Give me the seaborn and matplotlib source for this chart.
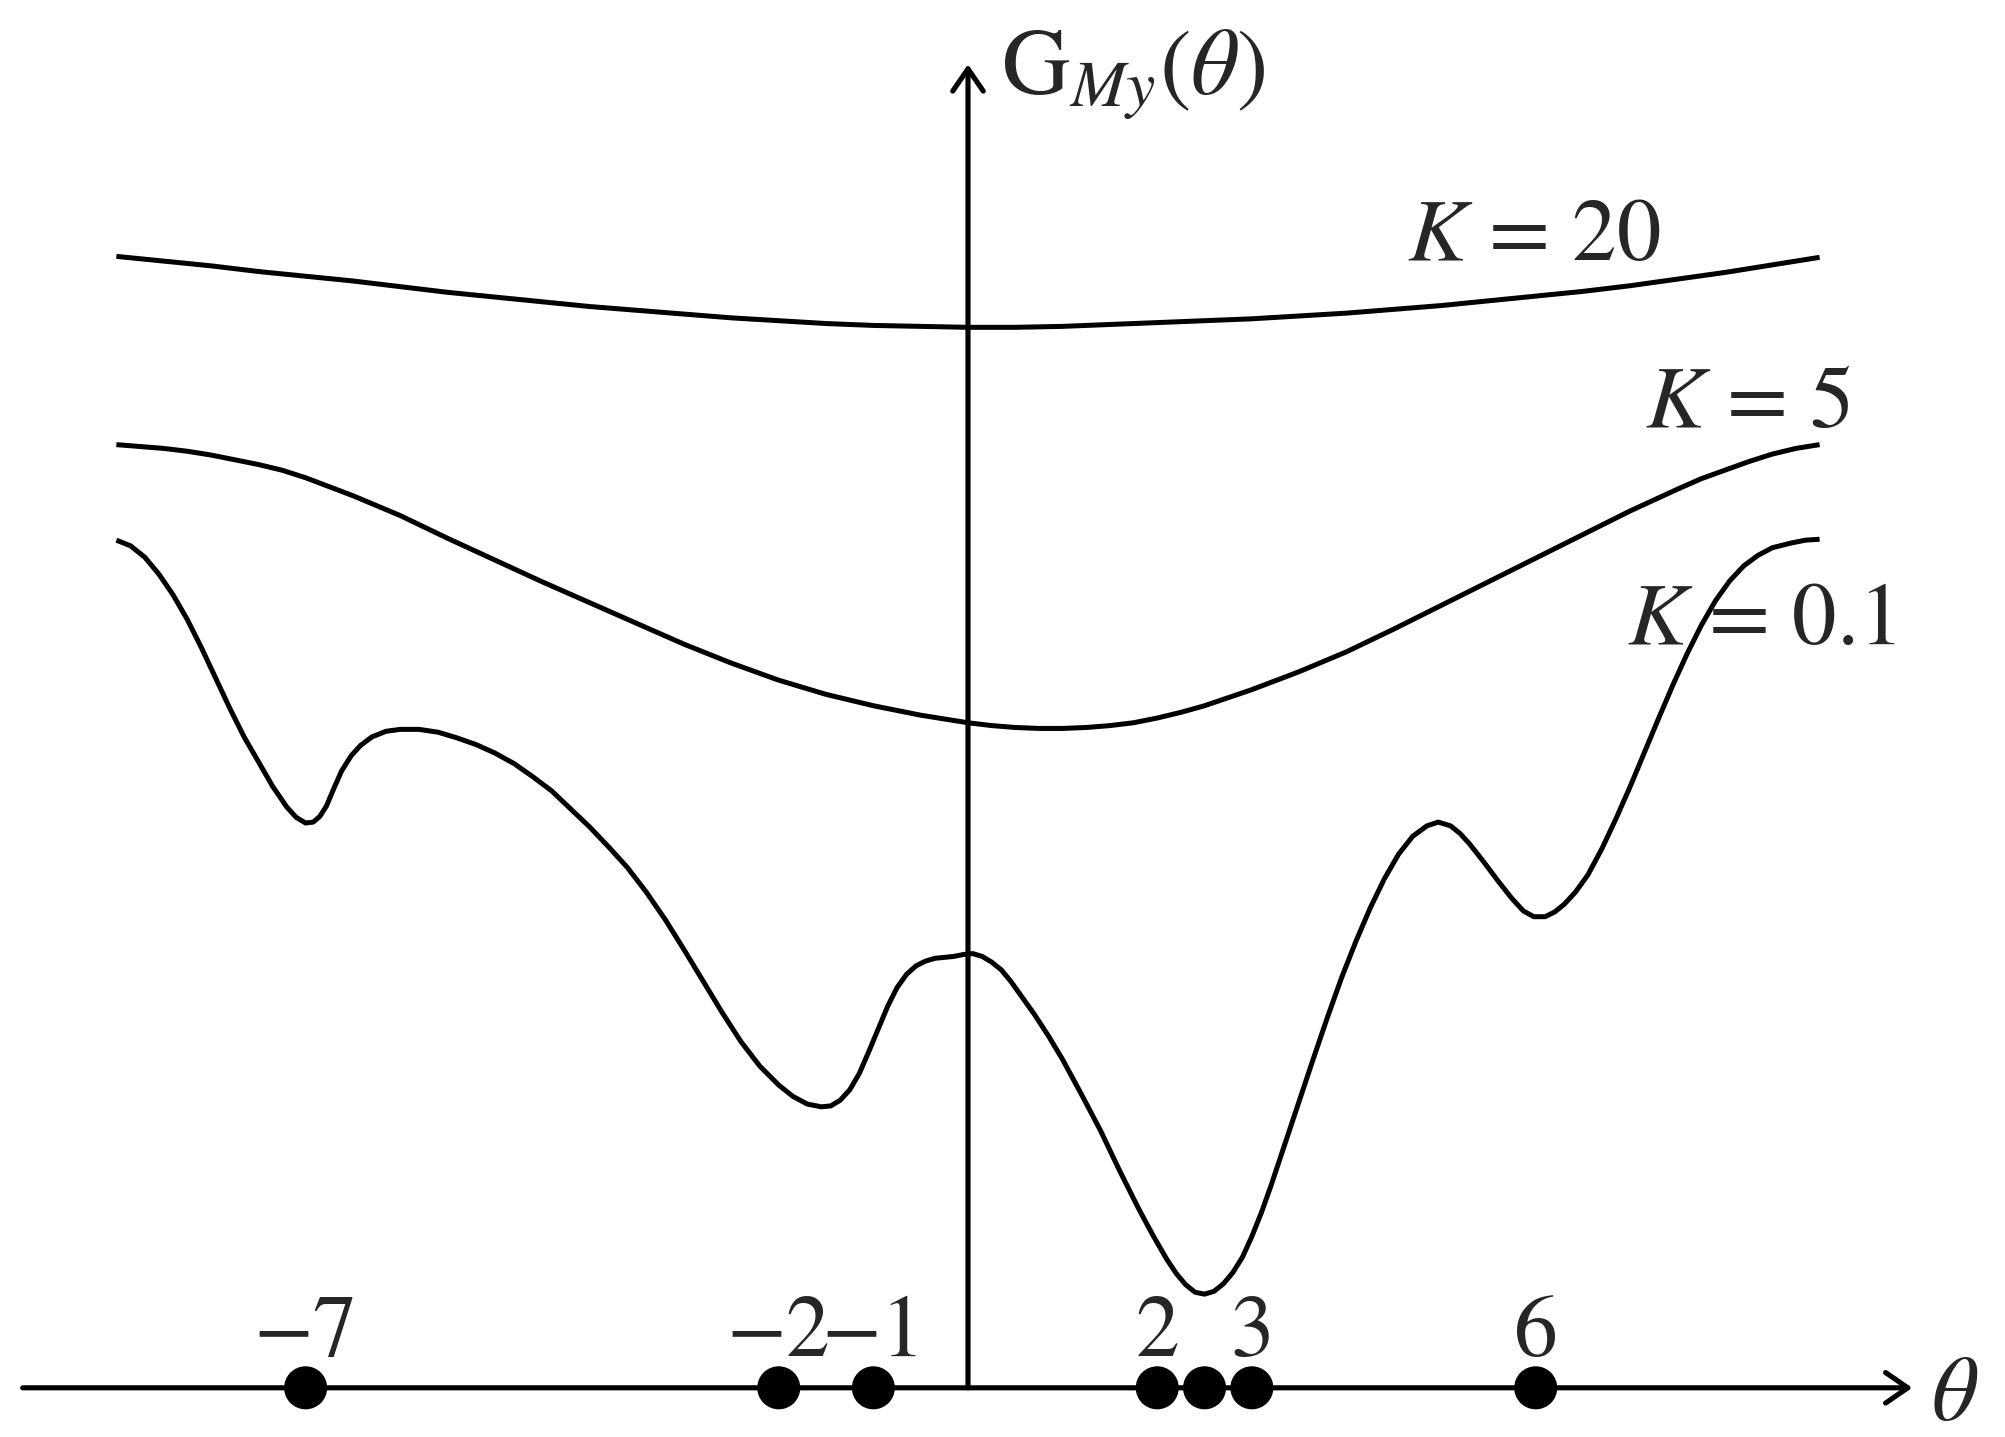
import numpy as np
import pandas as pd
import matplotlib
matplotlib.use("Agg")
import matplotlib.pyplot as plt
import seaborn as sns

# ---------------- data ----------------
theta_k20 = [-9, -8.5, -8, -7.5, -7, -6.5, -6, -5.5, -5, -4.5, -4, -3.5, -3, -2.5,
             -2, -1.5, -1, -0.5, 0, 0.5, 1, 1.5, 2, 2.5, 3, 3.5, 4, 4.5, 5, 5.5,
             6, 6.5, 7, 7.5, 8, 8.5, 9]
g_k20 = [11.96, 11.91, 11.86, 11.80, 11.75, 11.70, 11.64, 11.58, 11.53, 11.48,
         11.43, 11.39, 11.35, 11.31, 11.28, 11.25, 11.23, 11.22, 11.21, 11.21,
         11.22, 11.24, 11.26, 11.28, 11.30, 11.33, 11.36, 11.40, 11.44, 11.49,
         11.54, 11.59, 11.65, 11.72, 11.79, 11.87, 11.95]

theta_k5 = [-9, -8.75, -8.5, -8.25, -8, -7.75, -7.5, -7.25, -7, -6.5, -6, -5.5, -5,
            -4.5, -4, -3.5, -3, -2.5, -2, -1.5, -1, -0.5, -0.25, 0, 0.25, 0.5, 0.75,
            1, 1.25, 1.5, 1.75, 2, 2.25, 2.5, 3, 3.5, 4, 4.5, 5, 5.5, 6, 6.5, 7,
            7.5, 7.75, 8, 8.25, 8.5, 8.75, 9]
g_k5 = [9.97, 9.95, 9.93, 9.90, 9.86, 9.81, 9.76, 9.70, 9.62, 9.43, 9.22, 8.98,
        8.75, 8.52, 8.30, 8.08, 7.86, 7.66, 7.48, 7.33, 7.21, 7.11, 7.07, 7.03,
        7.00, 6.98, 6.97, 6.97, 6.98, 7.00, 7.03, 7.08, 7.14, 7.21, 7.38, 7.57,
        7.78, 8.02, 8.27, 8.52, 8.77, 9.02, 9.27, 9.50, 9.61, 9.70, 9.79, 9.87,
        9.93, 9.97]

theta_k01 = [-9.0, -8.85, -8.7, -8.55, -8.4, -8.25, -8.1, -7.95, -7.8, -7.65, -7.5,
             -7.35, -7.2, -7.1, -7.0, -6.92, -6.85, -6.78, -6.7, -6.62, -6.52, -6.42,
             -6.3, -6.15, -6.0, -5.8, -5.6, -5.4, -5.2, -5.0, -4.8, -4.6, -4.4, -4.2,
             -4.0, -3.8, -3.6, -3.4, -3.2, -3.0, -2.8, -2.6, -2.4, -2.2, -2.0, -1.85,
             -1.7, -1.55, -1.45, -1.35, -1.25, -1.15, -1.05, -0.95, -0.85, -0.75,
             -0.65, -0.55, -0.45, -0.35, -0.25, -0.15, -0.05, 0.05, 0.15, 0.25, 0.35,
             0.45, 0.55, 0.7, 0.85, 1.0, 1.2, 1.4, 1.6, 1.8, 1.95, 2.1, 2.2, 2.3, 2.4,
             2.5, 2.6, 2.7, 2.8, 2.9, 3.0, 3.1, 3.2, 3.35, 3.5, 3.65, 3.8, 3.95, 4.1,
             4.25, 4.4, 4.55, 4.7, 4.85, 4.97, 5.1, 5.2, 5.3, 5.45, 5.6, 5.75, 5.87,
             5.98, 6.1, 6.2, 6.3, 6.42, 6.55, 6.7, 6.85, 7.0, 7.15, 7.3, 7.45, 7.6,
             7.75, 7.9, 8.05, 8.2, 8.35, 8.5, 8.7, 8.85, 9.0]
g_k01 = [8.96, 8.90, 8.78, 8.60, 8.38, 8.12, 7.82, 7.50, 7.18, 6.88, 6.62,
         6.36, 6.14, 6.03, 5.97, 5.98, 6.04, 6.15, 6.34, 6.52, 6.68, 6.79,
         6.88, 6.94, 6.96, 6.96, 6.93, 6.87, 6.80, 6.71, 6.60, 6.46, 6.31, 6.12,
         5.93, 5.72, 5.50, 5.24, 4.95, 4.63, 4.30, 3.97, 3.66, 3.40, 3.20, 3.08,
         3.00, 2.97, 2.98, 3.04, 3.15, 3.32, 3.55, 3.79, 4.03, 4.23,
         4.37, 4.46, 4.51, 4.54, 4.55, 4.56, 4.58, 4.59, 4.56, 4.50, 4.42,
         4.30, 4.16, 3.95, 3.72, 3.47, 3.10, 2.72, 2.30, 1.90, 1.62, 1.36, 1.21, 1.09, 1.01,
         0.99, 1.02, 1.10, 1.22, 1.38, 1.60, 1.85, 2.13, 2.58, 3.03, 3.48, 3.92, 4.34, 4.72,
         5.07, 5.38, 5.64, 5.83, 5.94, 5.98, 5.94, 5.86, 5.75, 5.56, 5.36, 5.17, 5.04,
         4.98, 4.98, 5.03, 5.11, 5.24, 5.42, 5.70, 6.02, 6.36, 6.72, 7.08, 7.43, 7.76,
         8.06, 8.32, 8.53, 8.69, 8.80, 8.88, 8.93, 8.96, 8.97]

curve_labels = ["$K$ = 20", "$K$ = 5", "$K$ = 0.1"]

sample_points = [-7, -2, -1, 2, 2.5, 3, 6]
tick_values = [-7, -2, -1, 2, 3, 6]
tick_labels = ["\u22127", "\u22122", "\u22121", "2", "3", "6"]

# ---------------- style ----------------
sns.set_theme(style="white")
plt.rcParams["font.family"] = ["STIXGeneral", "DejaVu Serif"]
plt.rcParams["mathtext.fontset"] = "stix"

fig = plt.figure(figsize=(20.06, 14.37), dpi=100)
ax = fig.add_axes([0, 0, 1, 1])
ax.set_xlim(-10.23, 10.97)
ax.set_ylim(-0.52, 14.67)
ax.axis("off")

curve_lw = 3.6
df20 = pd.DataFrame({"theta": theta_k20, "G": g_k20})
df5 = pd.DataFrame({"theta": theta_k5, "G": g_k5})
df01 = pd.DataFrame({"theta": theta_k01, "G": g_k01})
for d in (df20, df5, df01):
    sns.lineplot(data=d, x="theta", y="G", ax=ax, color="black", lw=curve_lw,
                 sort=False, legend=False, solid_joinstyle="round",
                 solid_capstyle="butt")

# axes with arrows
axis_lw = 3.7
arrow_style = "->,head_length=0.8,head_width=0.55"
ax.annotate("", xy=(9.98, 0), xytext=(-9.99, 0),
            arrowprops=dict(arrowstyle=arrow_style, lw=axis_lw, color="black",
                            shrinkA=0, shrinkB=0, mutation_scale=20))
ax.annotate("", xy=(0, 13.99), xytext=(0, 0),
            arrowprops=dict(arrowstyle=arrow_style, lw=axis_lw, color="black",
                            shrinkA=0, shrinkB=0, mutation_scale=20))

# sample points on the axis
dots = pd.DataFrame({"theta": sample_points, "y": [0.0] * len(sample_points)})
sns.scatterplot(data=dots, x="theta", y="y", ax=ax, color="black", s=31 ** 2,
                edgecolor="none", zorder=5, legend=False)

fs_tick = 63
for v, lab in zip(tick_values, tick_labels):
    ax.text(v, 0.34, lab, ha="center", va="baseline", fontsize=fs_tick)

# curve labels
fs = 64
ax.text(4.64, 11.92, curve_labels[0], ha="left", va="baseline", fontsize=fs)
ax.text(7.16, 10.16, curve_labels[1], ha="left", va="baseline", fontsize=fs)
ax.text(6.96, 7.86, curve_labels[2], ha="left", va="baseline", fontsize=fs)

# axis labels
ax.text(0.35, 13.68, "G$_{My}(\\theta)$", ha="left", va="baseline", fontsize=68)
ax.text(10.18, -0.34, "$\\theta$", ha="left", va="baseline", fontsize=66)

ax.set_xlabel("")
ax.set_ylabel("")
fig.savefig("out.png", dpi=100, facecolor="white")
